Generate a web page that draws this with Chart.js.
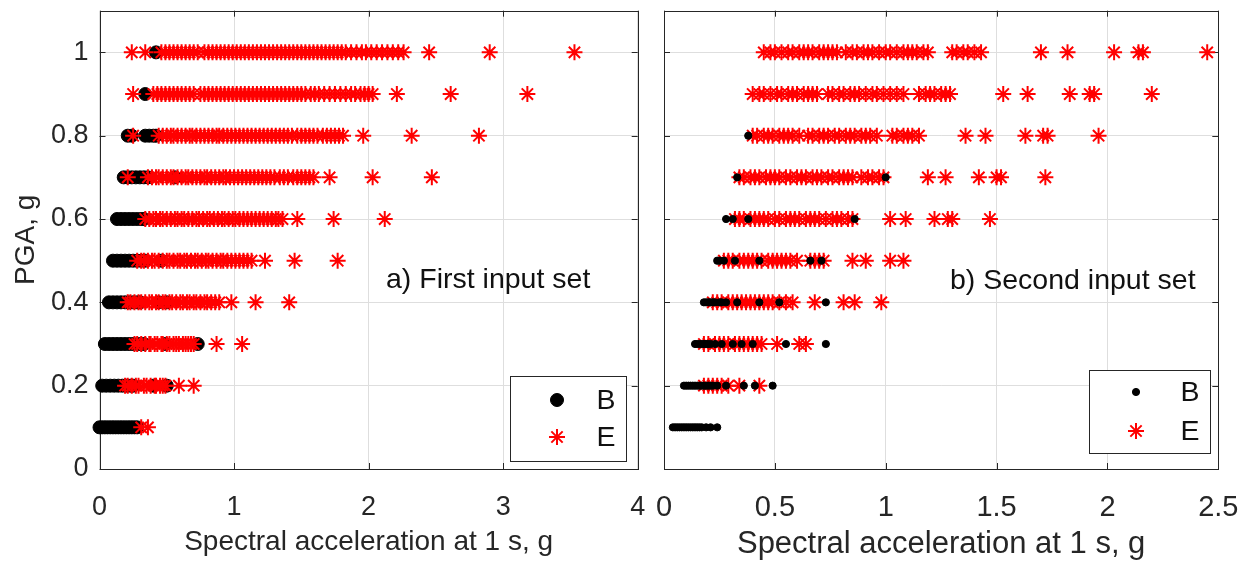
<!DOCTYPE html>
<html>
<head>
<meta charset="utf-8">
<script src="https://cdn.jsdelivr.net/npm/chart.js@4.4.1/dist/chart.umd.min.js"></script>
<style>
  body { margin: 0; background: #fff; }
  #wrap { position: relative; width: 1253px; height: 563px; overflow: hidden; }
  .panel { position: absolute; top: 0; }
</style>
</head>
<body>
<div id="wrap">
  <div class="panel" style="left:0"><canvas id="firstSet" width="650" height="563"></canvas></div>
  <div class="panel" style="left:650px"><canvas id="secondSet" width="603" height="563"></canvas></div>
</div>
<script>
// PGA levels (g), one row of spectral accelerations per level
const pgaLevels = [0.1, 0.2, 0.3, 0.4, 0.5, 0.6, 0.7, 0.8, 0.9, 1.0];
const pgaTicks = [0, 0.2, 0.4, 0.6, 0.8, 1];
const firstSaTicks = [0, 1, 2, 3, 4];
const secondSaTicks = [0, 0.5, 1, 1.5, 2, 2.5];

// a) first input set, Sa(1s) for class B
const firstB = [
  [0.00, 0.02, 0.04, 0.06, 0.08, 0.10, 0.12, 0.14, 0.16, 0.18, 0.20, 0.22, 0.24, 0.26, 0.28],
  [0.02, 0.05, 0.08, 0.11, 0.14, 0.17, 0.20, 0.23, 0.25, 0.40, 0.50],
  [0.04, 0.07, 0.10, 0.13, 0.16, 0.19, 0.22, 0.25, 0.29, 0.33, 0.49, 0.73],
  [0.07, 0.10, 0.13, 0.16, 0.19, 0.22, 0.25, 0.28, 0.30, 0.44, 0.50],
  [0.10, 0.13, 0.16, 0.19, 0.22, 0.25, 0.28, 0.31, 0.34, 0.46],
  [0.13, 0.16, 0.19, 0.22, 0.25, 0.28, 0.31, 0.33],
  [0.18, 0.21, 0.24, 0.27, 0.30, 0.33, 0.36, 0.56],
  [0.21, 0.24, 0.34, 0.37, 0.40, 0.42],
  [0.34],
  [0.42]
];

// a) first input set, Sa(1s) for class E
const firstE = [
  [0.31, 0.36],
  [0.19, 0.21, 0.24, 0.27, 0.29, 0.33, 0.35, 0.38, 0.41, 0.42, 0.45, 0.47, 0.49, 0.59, 0.70],
  [0.26, 0.28, 0.31, 0.34, 0.37, 0.38, 0.41, 0.43, 0.46, 0.47, 0.50, 0.52, 0.55, 0.57, 0.59, 0.62, 0.64, 0.66, 0.68, 0.70, 0.87, 1.06],
  [0.21, 0.23, 0.26, 0.29, 0.31, 0.34, 0.37, 0.39, 0.42, 0.44, 0.47, 0.49, 0.52, 0.54, 0.57, 0.60, 0.62, 0.65, 0.67, 0.70, 0.72, 0.75, 0.78, 0.80, 0.83, 0.86, 0.89, 0.98, 1.16, 1.41],
  [0.28, 0.31, 0.33, 0.36, 0.39, 0.41, 0.44, 0.47, 0.50, 0.52, 0.55, 0.58, 0.60, 0.63, 0.65, 0.68, 0.71, 0.73, 0.76, 0.79, 0.81, 0.84, 0.87, 0.90, 0.92, 0.95, 0.98, 1.01, 1.04, 1.07, 1.10, 1.13, 1.23, 1.45, 1.77],
  [0.34, 0.37, 0.40, 0.42, 0.45, 0.47, 0.50, 0.53, 0.56, 0.58, 0.61, 0.63, 0.66, 0.69, 0.72, 0.74, 0.77, 0.80, 0.82, 0.85, 0.88, 0.91, 0.93, 0.96, 0.99, 1.01, 1.04, 1.07, 1.10, 1.13, 1.16, 1.19, 1.22, 1.25, 1.28, 1.31, 1.33, 1.36, 1.47, 1.74, 2.12],
  [0.21, 0.36, 0.39, 0.42, 0.44, 0.47, 0.50, 0.53, 0.55, 0.58, 0.61, 0.64, 0.66, 0.69, 0.72, 0.75, 0.78, 0.80, 0.83, 0.86, 0.89, 0.92, 0.94, 0.97, 1.00, 1.03, 1.06, 1.09, 1.12, 1.15, 1.18, 1.21, 1.24, 1.27, 1.30, 1.34, 1.37, 1.40, 1.44, 1.47, 1.50, 1.53, 1.56, 1.59, 1.71, 2.03, 2.47],
  [0.25, 0.44, 0.47, 0.50, 0.53, 0.55, 0.58, 0.61, 0.64, 0.67, 0.69, 0.72, 0.75, 0.78, 0.81, 0.84, 0.87, 0.89, 0.92, 0.95, 0.98, 1.01, 1.04, 1.07, 1.10, 1.13, 1.16, 1.19, 1.22, 1.25, 1.28, 1.31, 1.34, 1.37, 1.40, 1.43, 1.47, 1.50, 1.53, 1.56, 1.59, 1.62, 1.66, 1.69, 1.72, 1.75, 1.78, 1.81, 1.96, 2.32, 2.82],
  [0.25, 0.40, 0.43, 0.46, 0.49, 0.52, 0.55, 0.58, 0.61, 0.64, 0.67, 0.70, 0.75, 0.78, 0.81, 0.84, 0.87, 0.90, 0.93, 0.96, 0.99, 1.02, 1.05, 1.08, 1.11, 1.14, 1.17, 1.20, 1.23, 1.26, 1.29, 1.32, 1.35, 1.38, 1.41, 1.44, 1.47, 1.50, 1.53, 1.57, 1.60, 1.63, 1.67, 1.71, 1.75, 1.79, 1.83, 1.87, 1.90, 1.94, 1.97, 2.00, 2.03, 2.21, 2.61, 3.18],
  [0.24, 0.34, 0.46, 0.49, 0.52, 0.55, 0.58, 0.61, 0.64, 0.67, 0.70, 0.73, 0.78, 0.81, 0.84, 0.87, 0.90, 0.93, 0.96, 0.99, 1.02, 1.05, 1.08, 1.11, 1.14, 1.17, 1.20, 1.23, 1.26, 1.29, 1.32, 1.35, 1.38, 1.41, 1.44, 1.47, 1.50, 1.53, 1.56, 1.59, 1.62, 1.65, 1.68, 1.71, 1.74, 1.77, 1.80, 1.83, 1.87, 1.91, 1.95, 1.98, 2.02, 2.06, 2.10, 2.14, 2.18, 2.22, 2.26, 2.45, 2.90, 3.53]
];

// b) second input set, Sa(1s) for class B
const secondB = [
  [0.04, 0.05, 0.06, 0.07, 0.08, 0.09, 0.10, 0.11, 0.12, 0.13, 0.14, 0.15, 0.16, 0.17, 0.19, 0.21, 0.24],
  [0.09, 0.10, 0.11, 0.12, 0.13, 0.14, 0.15, 0.16, 0.17, 0.18, 0.19, 0.20, 0.21, 0.22, 0.24, 0.28, 0.36, 0.41, 0.49],
  [0.14, 0.15, 0.16, 0.17, 0.18, 0.19, 0.20, 0.21, 0.23, 0.26, 0.31, 0.35, 0.40, 0.55, 0.73],
  [0.18, 0.19, 0.20, 0.21, 0.22, 0.23, 0.25, 0.26, 0.28, 0.33, 0.43, 0.52, 0.73],
  [0.24, 0.25, 0.27, 0.32, 0.43, 0.66, 0.71],
  [0.28, 0.31, 0.38, 0.86],
  [0.33, 1.00],
  [0.38],
  [],
  []
];

// b) second input set, Sa(1s) for class E
const secondE = [
  [],
  [0.18, 0.20, 0.22, 0.24, 0.26, 0.29, 0.34, 0.43],
  [0.18, 0.20, 0.23, 0.25, 0.27, 0.29, 0.32, 0.34, 0.36, 0.38, 0.40, 0.42, 0.44, 0.51, 0.61, 0.64],
  [0.22, 0.24, 0.26, 0.29, 0.31, 0.33, 0.35, 0.37, 0.39, 0.41, 0.43, 0.45, 0.47, 0.49, 0.52, 0.55, 0.58, 0.68, 0.81, 0.86, 0.98],
  [0.27, 0.29, 0.31, 0.34, 0.36, 0.38, 0.40, 0.42, 0.44, 0.47, 0.49, 0.51, 0.53, 0.55, 0.57, 0.60, 0.66, 0.68, 0.70, 0.72, 0.85, 0.91, 1.02, 1.08],
  [0.32, 0.34, 0.36, 0.39, 0.41, 0.43, 0.45, 0.47, 0.50, 0.52, 0.55, 0.57, 0.59, 0.61, 0.64, 0.66, 0.68, 0.70, 0.73, 0.76, 0.78, 0.80, 0.83, 0.85, 1.02, 1.09, 1.22, 1.28, 1.30, 1.47],
  [0.34, 0.36, 0.39, 0.41, 0.43, 0.46, 0.48, 0.50, 0.52, 0.55, 0.57, 0.60, 0.62, 0.64, 0.67, 0.69, 0.71, 0.74, 0.76, 0.79, 0.81, 0.83, 0.85, 0.89, 0.92, 0.94, 0.97, 0.99, 1.19, 1.27, 1.42, 1.50, 1.52, 1.72],
  [0.40, 0.42, 0.45, 0.47, 0.49, 0.52, 0.54, 0.56, 0.58, 0.61, 0.65, 0.67, 0.70, 0.72, 0.74, 0.77, 0.79, 0.82, 0.84, 0.86, 0.89, 0.91, 0.93, 0.96, 1.03, 1.05, 1.08, 1.10, 1.12, 1.15, 1.36, 1.45, 1.63, 1.71, 1.73, 1.96],
  [0.40, 0.43, 0.45, 0.48, 0.51, 0.53, 0.56, 0.58, 0.60, 0.63, 0.65, 0.67, 0.69, 0.74, 0.76, 0.79, 0.81, 0.84, 0.86, 0.88, 0.91, 0.94, 0.96, 0.99, 1.02, 1.05, 1.08, 1.15, 1.18, 1.20, 1.22, 1.25, 1.27, 1.29, 1.53, 1.64, 1.83, 1.92, 1.94, 2.20],
  [0.45, 0.48, 0.50, 0.53, 0.56, 0.58, 0.61, 0.63, 0.65, 0.67, 0.70, 0.72, 0.74, 0.76, 0.78, 0.82, 0.85, 0.87, 0.90, 0.92, 0.94, 0.97, 1.00, 1.02, 1.05, 1.08, 1.10, 1.12, 1.14, 1.17, 1.19, 1.30, 1.32, 1.35, 1.37, 1.40, 1.43, 1.70, 1.82, 2.03, 2.14, 2.16, 2.45]
];

const FONT = '"Liberation Sans", Arial, Helvetica, sans-serif';
const INK = '#262626';

const toPoints = rows => rows.flatMap((xs, i) => xs.map(x => ({ x: x, y: pgaLevels[i] })));
const setTicks = vals => scale => { scale.ticks = vals.map(v => ({ value: v })); };

// box round the axes + MATLAB style inward tick marks
const axesBox = {
  id: 'axesBox',
  beforeDatasetsDraw(chart) {
    const { ctx, chartArea: a, scales: { x, y } } = chart;
    const len = 6;
    ctx.save();
    ctx.strokeStyle = INK;
    ctx.lineWidth = 1;
    ctx.beginPath();
    x.ticks.forEach(t => {
      const px = Math.round(x.getPixelForValue(t.value)) + 0.5;
      ctx.moveTo(px, a.bottom); ctx.lineTo(px, a.bottom - len);
      ctx.moveTo(px, a.top); ctx.lineTo(px, a.top + len);
    });
    y.ticks.forEach(t => {
      const py = Math.round(y.getPixelForValue(t.value)) + 0.5;
      ctx.moveTo(a.left, py); ctx.lineTo(a.left + len, py);
      ctx.moveTo(a.right, py); ctx.lineTo(a.right - len, py);
    });
    ctx.stroke();
    ctx.strokeRect(Math.round(a.left) + 0.5, Math.round(a.top) + 0.5, Math.round(a.width), Math.round(a.height));
    ctx.restore();
  }
};

// panel label and boxed legend inside the axes
const panelExtras = {
  id: 'panelExtras',
  afterDatasetsDraw(chart, args, opts) {
    const { ctx } = chart;
    ctx.save();
    ctx.fillStyle = '#111';
    ctx.font = opts.labelFont + ' ' + FONT;
    ctx.textAlign = 'left';
    ctx.textBaseline = 'middle';
    ctx.fillText(opts.label, opts.labelX, opts.labelY);

    const b = opts.box;
    ctx.fillStyle = '#fff';
    ctx.fillRect(b.x, b.y, b.w, b.h);
    ctx.strokeStyle = INK;
    ctx.lineWidth = 1;
    ctx.strokeRect(b.x + 0.5, b.y + 0.5, b.w, b.h);

    chart.data.datasets.forEach((ds, i) => {
      const yy = b.rows[i];
      ctx.fillStyle = ds.backgroundColor;
      ctx.strokeStyle = ds.borderColor;
      ctx.lineWidth = ds.borderWidth;
      Chart.helpers.drawPoint(ctx, { pointStyle: ds.pointStyle, radius: ds.pointRadius, borderWidth: ds.borderWidth, rotation: 0 }, b.markerX, yy);
      ctx.fillStyle = '#111';
      ctx.font = opts.labelFont + ' ' + FONT;
      ctx.textAlign = 'center';
      ctx.fillText(ds.label, b.textX, yy + 1);
    });
    ctx.restore();
  }
};

function makeChart(id, cfg) {
  return new Chart(document.getElementById(id), {
    type: 'scatter',
    data: {
      datasets: [
        {
          label: 'B', data: toPoints(cfg.b), order: cfg.bOrder,
          pointStyle: 'circle', pointRadius: cfg.bRadius, pointHoverRadius: cfg.bRadius,
          backgroundColor: '#000', borderColor: '#000', borderWidth: 1, clip: false
        },
        {
          label: 'E', data: toPoints(cfg.e), order: cfg.eOrder,
          pointStyle: 'star', pointRadius: 8, pointHoverRadius: 8,
          backgroundColor: '#ff0000', borderColor: '#ff0000', borderWidth: 2, clip: false
        }
      ]
    },
    options: {
      responsive: false,
      animation: false,
      devicePixelRatio: 1,
      layout: { padding: cfg.padding },
      plugins: {
        legend: { display: false },
        tooltip: { enabled: false },
        panelExtras: cfg.extras
      },
      scales: {
        x: {
          type: 'linear', min: cfg.xTicks[0], max: cfg.xTicks[cfg.xTicks.length - 1],
          afterBuildTicks: setTicks(cfg.xTicks),
          afterFit: s => { s.height = 94; s.paddingLeft = 0; s.paddingRight = 0; },
          grid: { color: '#dedede', lineWidth: 1, drawTicks: false },
          border: { display: false },
          ticks: { padding: 22, color: INK, font: { family: FONT, size: cfg.tickSize }, maxRotation: 0, callback: v => String(v) },
          title: { display: true, text: 'Spectral acceleration at 1 s, g', color: INK, font: { family: FONT, size: cfg.titleSize }, padding: { top: 0, bottom: cfg.titlePad } }
        },
        y: {
          type: 'linear', min: 0, max: 1.1,
          afterBuildTicks: setTicks(pgaTicks),
          afterFit: s => { s.width = cfg.yWidth; s.paddingTop = 0; s.paddingBottom = 0; },
          grid: { color: '#dedede', lineWidth: 1, drawTicks: false },
          border: { display: false },
          ticks: { display: cfg.yLabels, padding: 11, color: INK, font: { family: FONT, size: 27 }, callback: v => String(v) },
          title: { display: cfg.yLabels, text: 'PGA, g', color: INK, font: { family: FONT, size: 28 }, padding: { top: 9, bottom: 0 } }
        }
      }
    },
    plugins: [axesBox, panelExtras]
  });
}

makeChart('firstSet', {
  b: firstB, e: firstE, bOrder: 1, eOrder: 0, bRadius: 6.5,
  xTicks: firstSaTicks, yWidth: 99.5, yLabels: true,
  padding: { left: 0, top: 10.7, right: 12.3, bottom: 0 },
  tickSize: 27, titleSize: 28, titlePad: 4,
  extras: {
    label: 'a) First input set', labelX: 386, labelY: 280, labelFont: '28.5px',
    box: { x: 510, y: 376, w: 116, h: 85, markerX: 557, textX: 606, rows: [400, 437] }
  }
});

makeChart('secondSet', {
  b: secondB, e: secondE, bOrder: 0, eOrder: 1, bRadius: 3.6,
  xTicks: secondSaTicks, yWidth: 14, yLabels: false,
  padding: { left: 0, top: 10.7, right: 34.7, bottom: 0 },
  tickSize: 29, titleSize: 31, titlePad: 0,
  extras: {
    label: 'b) Second input set', labelX: 300, labelY: 281, labelFont: '28.5px',
    box: { x: 439, y: 370, w: 121, h: 83, markerX: 486, textX: 540, rows: [392, 431] }
  }
});
</script>
</body>
</html>
